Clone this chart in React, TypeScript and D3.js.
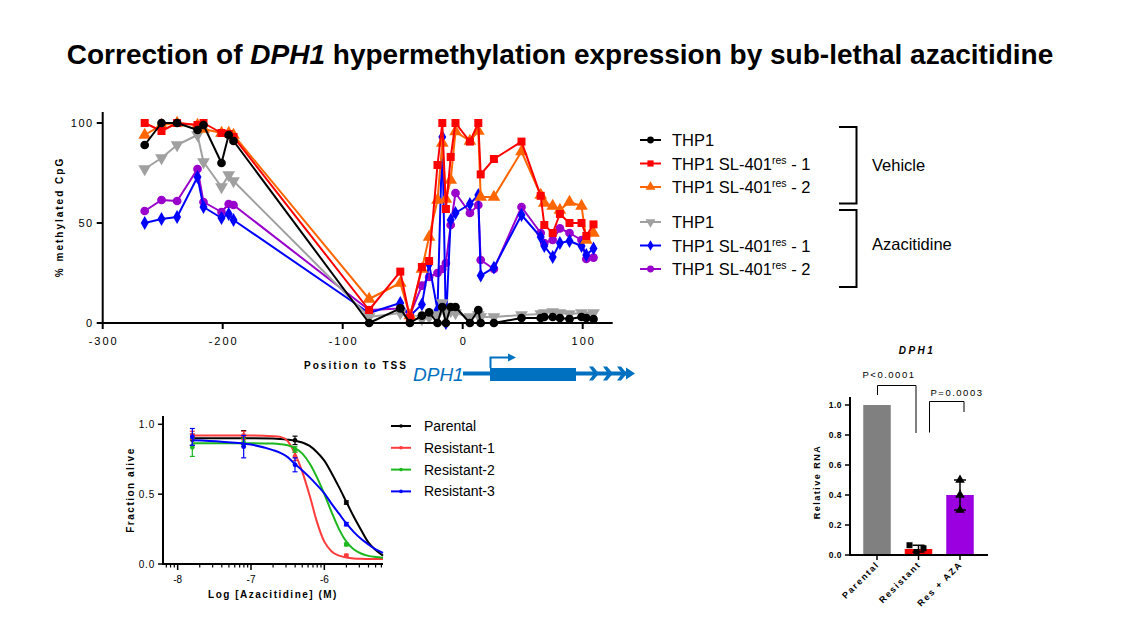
import React from "react";
import * as d3 from "d3";

// ---------- Main methylation chart data ----------
const positions = [-265, -251, -238, -221, -216, -201, -195, -191, -78, -52, -44, -34, -28, -21, -17, -14, -10, -6, 6, 13, 15, 26, 49, 65, 68, 75, 81, 89, 99, 103, 109];
const thp1Vehicle = [89, 100, 100, 96.5, 99, 80, 94, 91, 0, 7.3, 0, 3.7, 5.3, 0, 8, 0, 8, 8, 0, 6.5, 0, 0, 2.5, 2.5, 3, 3, 2.5, 2, 3, 2.5, 2];
const res1Vehicle = [100, 96, 100, 99, 100, 95, 94.5, 93, 6.5, 25.7, 2.5, 28, 31, 79, 100, 57, 83, 100, 90.7, 100, 74.3, 82, 90.7, 63.6, 49, 45, 54.5, 50, 50, 43.5, 49.3];
const res2Vehicle = [94, 99, 100, 99, 97, 95, 95, 94, 12, 20, 3.7, 27, 43, 61.5, 90, 62, 71.5, 95.7, 91, 96, 63, 63, 85.7, 64, 60, 58.5, 56.5, 60.5, 58.5, 41.5, 45];
const thp1Aza = [77, 82.5, 89, 94, 80.5, 68, 74, 71, 3, 5, 2, 2, 3, 4, 10, 5, 6, 5, 3, 4, 3, 3, 4, 4.5, 5, 5.5, 5, 4.5, 5, 4, 5];
const res1Aza = [50, 52, 53, 73, 58, 52.5, 54.5, 51.5, 5, 10, 3.5, 9.3, 29.5, 6.5, 93, 0, 51.5, 55, 59.5, 64, 23.7, 27.7, 54, 43, 38.5, 33, 40, 41, 38.5, 34, 37.3];
const res2Aza = [56, 61.5, 61, 77, 60.5, 55.5, 59.5, 59, 6.5, 7.3, 4, 18.7, 23, 25, 27, 30, 49, 65, 55, 59, 31.5, 27, 58, 45, 40, 41.5, 47.3, 45, 41.5, 32, 32.7];
const mainXTicks = [-300, -200, -100, 0, 100];
const mainYTicks = [0, 50, 100];

// ---------- Dose response data ----------
const doseLogs = [-7.8, -7.1, -6.4, -5.7];
const parentalMean = [0.89, 0.905, 0.885, 0.44];
const parentalErr = [0.04, 0.05, 0.03, 0.012];
const resistant1Mean = [0.92, 0.92, 0.77, 0.06];
const resistant1Err = [0.03, 0.03, 0.03, 0.01];
const resistant2Mean = [0.835, 0.87, 0.82, 0.14];
const resistant2Err = [0.065, 0.03, 0.02, 0.01];
const resistant3Mean = [0.91, 0.84, 0.71, 0.285];
const resistant3Err = [0.06, 0.08, 0.05, 0.012];
const curveLogs = [-7.8, -7.4, -7.0, -6.7, -6.6, -6.5, -6.4, -6.3, -6.2, -6.1, -6.0, -5.9, -5.8, -5.7, -5.6, -5.5, -5.4, -5.3, -5.2];
const parentalCurve = [0.9, 0.9, 0.9, 0.898, 0.895, 0.89, 0.883, 0.87, 0.845, 0.8, 0.74, 0.65, 0.55, 0.445, 0.34, 0.245, 0.155, 0.1, 0.06];
const resistant1Curve = [0.92, 0.92, 0.92, 0.915, 0.91, 0.88, 0.79, 0.66, 0.49, 0.3, 0.16, 0.09, 0.06, 0.047, 0.04, 0.037, 0.036, 0.035, 0.035];
const resistant2Curve = [0.865, 0.865, 0.865, 0.862, 0.858, 0.85, 0.83, 0.79, 0.72, 0.62, 0.5, 0.37, 0.25, 0.16, 0.105, 0.075, 0.058, 0.05, 0.045];
const resistant3Curve = [0.885, 0.875, 0.855, 0.815, 0.795, 0.765, 0.715, 0.67, 0.62, 0.565, 0.506, 0.43, 0.36, 0.29, 0.23, 0.18, 0.14, 0.105, 0.08];
const doseXTicks = [-8, -7, -6];
const doseYTicks = [0, 0.5, 1];

// ---------- Bar chart data ----------
const barCats = ["Parental", "Resistant", "Res + AZA"];
const barVals = [1.0, 0.04, 0.4];
const resistantPts = [0.065, 0.045, 0.02];
const azaPts = [0.5, 0.4, 0.3];
const barYTicks = [0, 0.2, 0.4, 0.6, 0.8, 1.0];

const FONT = "Arial, 'Liberation Sans', Helvetica, sans-serif";
const BLUE_GENE = "#0070C0";

const mainSeries = [
  { name: "THP1", vals: res2Aza, color: "#9900CC", sym: d3.symbolCircle, size: 60, rot: 0, key: "p" },
  { name: "THP1", vals: res1Aza, color: "#0000FF", sym: d3.symbolDiamond, size: 55, rot: 0, key: "b" },
  { name: "THP1", vals: thp1Aza, color: "#A0A0A0", sym: d3.symbolTriangle, size: 70, rot: 180, key: "g" },
  { name: "THP1", vals: res2Vehicle, color: "#FF6600", sym: d3.symbolTriangle, size: 70, rot: 0, key: "o" },
  { name: "THP1", vals: res1Vehicle, color: "#FF0000", sym: d3.symbolSquare, size: 64, rot: 0, key: "r" },
  { name: "THP1", vals: thp1Vehicle, color: "#000000", sym: d3.symbolCircle, size: 60, rot: 0, key: "k" },
];

const legendRows = [
  { key: "k", label: "THP1", sup: false, suffix: "" },
  { key: "r", label: "THP1 SL-401", sup: true, suffix: " - 1" },
  { key: "o", label: "THP1 SL-401", sup: true, suffix: " - 2" },
  { key: "g", label: "THP1", sup: false, suffix: "" },
  { key: "b", label: "THP1 SL-401", sup: true, suffix: " - 1" },
  { key: "p", label: "THP1 SL-401", sup: true, suffix: " - 2" },
];
const legendY = [140, 163.5, 187, 222, 245.5, 269];

const doseSeries = [
  { name: "Parental", mean: parentalMean, err: parentalErr, curve: parentalCurve, color: "#000000" },
  { name: "Resistant-1", mean: resistant1Mean, err: resistant1Err, curve: resistant1Curve, color: "#FF3B3B" },
  { name: "Resistant-2", mean: resistant2Mean, err: resistant2Err, curve: resistant2Curve, color: "#1DB81D" },
  { name: "Resistant-3", mean: resistant3Mean, err: resistant3Err, curve: resistant3Curve, color: "#0000FF" },
];

export default function App() {
  // main scales
  const x = d3.scaleLinear().domain([-300, 125]).range([102.7, 612.7]);
  const y = d3.scaleLinear().domain([0, 100]).range([323, 123]);
  const line = d3.line<number>().x((_, i) => x(positions[i])).y((v) => y(v));

  // dose scales
  const dx = d3.scaleLinear().domain([-8.2, -5.2]).range([163, 383]);
  const dy = d3.scaleLinear().domain([0, 1]).range([564, 424.3]);
  const dline = d3.line<number>().x((_, i) => dx(curveLogs[i])).y((v) => dy(v)).curve(d3.curveMonotoneX);
  const minor: number[] = [];
  [-9, -8, -7, -6].forEach((d) => {
    for (let k = 2; k <= 9; k++) {
      const v = d + Math.log10(k);
      if (v > -8.2 && v < -5.2) minor.push(v);
    }
  });

  // bar scales
  const bx = d3.scalePoint<string>().domain(barCats).range([877, 960]);
  const by = d3.scaleLinear().domain([0, 1]).range([555, 405]);
  const bw = 27.5;

  const byKey: Record<string, (typeof mainSeries)[number]> = {};
  mainSeries.forEach((s) => (byKey[s.key] = s));

  const symPath = (s: (typeof mainSeries)[number], scale = 1) =>
    d3.symbol().type(s.sym).size(s.size * scale)() as string;

  return (
    <svg width={1129} height={635} style={{ position: "absolute", left: 0, top: 0, background: "#fff" }} fontFamily={FONT}>
      {/* Title */}
      <text x={560} y={64} textAnchor="middle" fontSize={28} fontWeight="bold">
        Correction of <tspan fontStyle="italic">DPH1</tspan> hypermethylation expression by sub-lethal azacitidine
      </text>

      {/* ===== Main chart ===== */}
      <g>
        {mainSeries.map((s) => (
          <g key={s.key}>
            <path d={line(s.vals) as string} fill="none" stroke={s.color} strokeWidth={2} strokeLinejoin="round" />
            {s.vals.map((v, i) => (
              <path key={i} d={symPath(s)} transform={`translate(${x(positions[i])},${y(v)}) rotate(${s.rot})`} fill={s.color} />
            ))}
          </g>
        ))}
        {/* axes */}
        <line x1={x(-300)} x2={x(-300)} y1={112} y2={324} stroke="#000" strokeWidth={2} />
        <line x1={x(-300) - 1} x2={x(125)} y1={323} y2={323} stroke="#000" strokeWidth={2} />
        {mainYTicks.map((t) => (
          <g key={t}>
            <line x1={x(-300) - 6} x2={x(-300)} y1={y(t)} y2={y(t)} stroke="#000" strokeWidth={2} />
            <text x={x(-300) - 9} y={y(t) + 4} textAnchor="end" fontSize={11} letterSpacing={1.5}>
              {t}
            </text>
          </g>
        ))}
        {mainXTicks.map((t) => (
          <g key={t}>
            <line x1={x(t)} x2={x(t)} y1={323} y2={329} stroke="#000" strokeWidth={2} />
            <text x={x(t) + 1} y={345} textAnchor="middle" fontSize={11} letterSpacing={2}>
              {t}
            </text>
          </g>
        ))}
        <text transform="translate(63,217) rotate(-90)" textAnchor="middle" fontSize={10} fontWeight="bold" letterSpacing={2}>
          % methylated CpG
        </text>
        <text x={356} y={369} textAnchor="middle" fontSize={10} fontWeight="bold" letterSpacing={2}>
          Position to TSS
        </text>

        {/* gene diagram */}
        <text x={413} y={381} fontSize={19} fontStyle="italic" fill={BLUE_GENE}>
          DPH1
        </text>
        <rect x={463} y={371.5} width={28} height={4} fill={BLUE_GENE} />
        <rect x={490} y={368} width={86} height={13} fill={BLUE_GENE} />
        <rect x={576} y={371.5} width={52} height={4} fill={BLUE_GENE} />
        <path d="M490.5,368 V357.5 H509" fill="none" stroke={BLUE_GENE} strokeWidth={2} />
        <path d="M508,353.5 L516,357.5 L508,361.5 Z" fill={BLUE_GENE} />
        {[589, 603, 617].map((cx) => (
          <path key={cx} d={`M${cx},366.5 L${cx + 4},366.5 L${cx + 10},373.5 L${cx + 4},380.5 L${cx},380.5 L${cx + 5},373.5 Z`} fill={BLUE_GENE} />
        ))}
        <path d="M626,367.5 L635,373.5 L626,379.5 Z" fill={BLUE_GENE} />
      </g>

      {/* main legend */}
      <g>
        {legendRows.map((r, i) => {
          const s = byKey[r.key];
          const ly = legendY[i];
          return (
            <g key={i}>
              <line x1={640} x2={661} y1={ly} y2={ly} stroke={s.color} strokeWidth={2} />
              <path d={symPath(s, 0.6)} transform={`translate(650.5,${ly}) rotate(${s.rot})`} fill={s.color} />
              <text x={672} y={ly + 6} fontSize={16.5}>
                {r.label}
                {r.sup ? (
                  <>
                    <tspan dy={-6} fontSize={10.5}>res</tspan>
                    <tspan dy={6}>{r.suffix}</tspan>
                  </>
                ) : null}
              </text>
            </g>
          );
        })}
        <path d="M839,127 H856.5 V203.5 H839" fill="none" stroke="#000" strokeWidth={2} />
        <path d="M839,210 H856.5 V287 H839" fill="none" stroke="#000" strokeWidth={2} />
        <text x={872} y={171} fontSize={16.5}>Vehicle</text>
        <text x={872} y={250} fontSize={16.5}>Azacitidine</text>
      </g>

      {/* ===== Dose response ===== */}
      <g>
        {doseSeries.map((s) => (
          <g key={s.name}>
            <path d={dline(s.curve) as string} fill="none" stroke={s.color} strokeWidth={2} />
            {s.mean.map((m, i) => {
              const cx = dx(doseLogs[i]);
              const e = s.err[i];
              return (
                <g key={i} stroke={s.color} strokeWidth={1.2}>
                  <line x1={cx} x2={cx} y1={dy(m - e)} y2={dy(m + e)} />
                  <line x1={cx - 2.5} x2={cx + 2.5} y1={dy(m - e)} y2={dy(m - e)} />
                  <line x1={cx - 2.5} x2={cx + 2.5} y1={dy(m + e)} y2={dy(m + e)} />
                  <circle cx={cx} cy={dy(m)} r={1.8} fill={s.color} />
                </g>
              );
            })}
          </g>
        ))}
        <line x1={dx(-8.2)} x2={dx(-8.2)} y1={416} y2={565} stroke="#000" strokeWidth={2} />
        <line x1={dx(-8.2) - 1} x2={dx(-5.2)} y1={564} y2={564} stroke="#000" strokeWidth={2} />
        {doseYTicks.map((t) => (
          <g key={t}>
            <line x1={dx(-8.2) - 5} x2={dx(-8.2)} y1={dy(t)} y2={dy(t)} stroke="#000" strokeWidth={1.5} />
            <text x={dx(-8.2) - 8} y={dy(t) + 3.5} textAnchor="end" fontSize={10} letterSpacing={0.8}>
              {t.toFixed(1)}
            </text>
          </g>
        ))}
        {minor.map((v, i) => (
          <line key={i} x1={dx(v)} x2={dx(v)} y1={564} y2={567.5} stroke="#000" strokeWidth={1.2} />
        ))}
        {doseXTicks.map((t) => (
          <g key={t}>
            <line x1={dx(t)} x2={dx(t)} y1={564} y2={570} stroke="#000" strokeWidth={1.5} />
            <text x={dx(t)} y={583} textAnchor="middle" fontSize={10}>
              {t}
            </text>
          </g>
        ))}
        <text x={273} y={598} textAnchor="middle" fontSize={10} fontWeight="bold" letterSpacing={1.5}>
          Log [Azacitidine] (M)
        </text>
        <text transform="translate(134,490) rotate(-90)" textAnchor="middle" fontSize={10} fontWeight="bold" letterSpacing={1.5}>
          Fraction alive
        </text>
        {doseSeries.map((s, i) => {
          const ly = 426 + i * 21.8;
          return (
            <g key={s.name}>
              <line x1={391} x2={411} y1={ly} y2={ly} stroke={s.color} strokeWidth={2} />
              <circle cx={401} cy={ly} r={1.8} fill={s.color} />
              <text x={424} y={ly + 5} fontSize={14}>
                {s.name}
              </text>
            </g>
          );
        })}
      </g>

      {/* ===== Bar chart ===== */}
      <g>
        <text x={917} y={354} textAnchor="middle" fontSize={10} fontWeight="bold" fontStyle="italic" letterSpacing={2.5}>
          DPH1
        </text>
        {barCats.map((c, i) => (
          <rect key={c} x={(bx(c) as number) - bw / 2} y={by(barVals[i])} width={bw} height={555 - by(barVals[i])}
            fill={i === 0 ? "#808080" : i === 1 ? "#FF0000" : "#9B00E0"} />
        ))}
        {/* resistant error & points */}
        {(() => {
          const cx = bx("Resistant") as number;
          const lo = d3.min(resistantPts) as number;
          const hi = d3.max(resistantPts) as number;
          return (
            <g>
              <line x1={cx} x2={cx} y1={by(lo)} y2={by(hi)} stroke="#000" strokeWidth={1.5} />
              <line x1={cx - 6} x2={cx + 6} y1={by(hi)} y2={by(hi)} stroke="#000" strokeWidth={1.5} />
              <line x1={cx - 6} x2={cx + 6} y1={by(lo)} y2={by(lo)} stroke="#000" strokeWidth={1.5} />
              {resistantPts.map((v, i) => (
                <rect key={i} x={cx + [-9, 5, -2][i] - 3} y={by(v) - 3} width={6} height={6} fill="#000" />
              ))}
            </g>
          );
        })()}
        {(() => {
          const cx = bx("Res + AZA") as number;
          const lo = d3.min(azaPts) as number;
          const hi = d3.max(azaPts) as number;
          const tri = d3.symbol().type(d3.symbolTriangle).size(40)() as string;
          return (
            <g>
              <line x1={cx} x2={cx} y1={by(lo)} y2={by(hi)} stroke="#000" strokeWidth={1.5} />
              <line x1={cx - 6} x2={cx + 6} y1={by(hi)} y2={by(hi)} stroke="#000" strokeWidth={1.5} />
              <line x1={cx - 6} x2={cx + 6} y1={by(lo)} y2={by(lo)} stroke="#000" strokeWidth={1.5} />
              {azaPts.map((v, i) => (
                <path key={i} d={tri} transform={`translate(${cx},${by(v)})`} fill="#000" />
              ))}
            </g>
          );
        })()}
        <line x1={850} x2={850} y1={397} y2={556} stroke="#000" strokeWidth={2} />
        <line x1={849} x2={988} y1={555} y2={555} stroke="#000" strokeWidth={2} />
        {barYTicks.map((t) => (
          <g key={t}>
            <line x1={845} x2={850} y1={by(t)} y2={by(t)} stroke="#000" strokeWidth={1.5} />
            <text x={842} y={by(t) + 3} textAnchor="end" fontSize={8.5} fontWeight="bold" letterSpacing={0.5}>
              {t.toFixed(1)}
            </text>
          </g>
        ))}
        {barCats.map((c) => {
          const cx = bx(c) as number;
          return (
            <g key={c}>
              <line x1={cx} x2={cx} y1={555} y2={560} stroke="#000" strokeWidth={1.5} />
              <text transform={`translate(${cx + 3},${565}) rotate(-45)`} textAnchor="end" fontSize={9} fontWeight="bold" letterSpacing={1.6}>
                {c}
              </text>
            </g>
          );
        })}
        <text transform="translate(820,482) rotate(-90)" textAnchor="middle" fontSize={9} fontWeight="bold" letterSpacing={1.5}>
          Relative RNA
        </text>
        {/* significance brackets */}
        <path d="M877.5,395 V385.5 H916 V433" fill="none" stroke="#000" strokeWidth={1} />
        <path d="M929.5,432.5 V401.5 H964 V412" fill="none" stroke="#000" strokeWidth={1} />
        <text x={889} y={378} textAnchor="middle" fontSize={9.5} letterSpacing={1.5}>P&lt;0.0001</text>
        <text x={957} y={396} textAnchor="middle" fontSize={9.5} letterSpacing={1.5}>P=0.0003</text>
      </g>
    </svg>
  );
}
